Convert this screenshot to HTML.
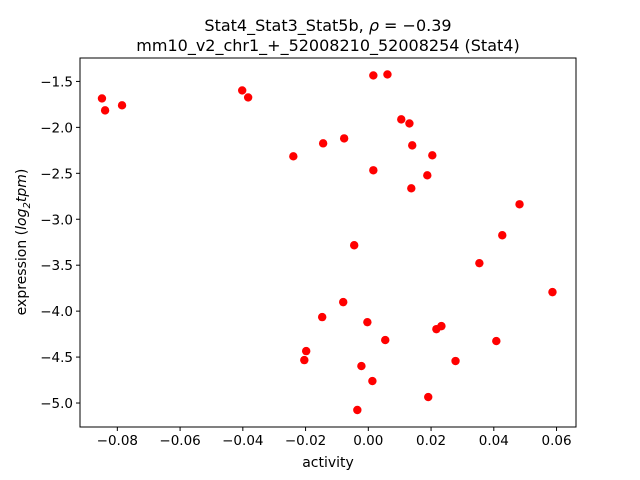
<!DOCTYPE html>
<html><head><meta charset="utf-8"><style>
body{margin:0;background:#fff;}
svg{display:block;font-family:"DejaVu Sans","Liberation Sans",sans-serif;}
</style></head><body>
<svg id="chart" width="640" height="480" viewBox="0 0 640 480">
<rect width="640" height="480" fill="#fff"/>
<text x="328" y="31" font-size="16" text-anchor="middle">Stat4_Stat3_Stat5b, <tspan font-style="italic">ρ</tspan> = −0.39</text>
<text x="328" y="51" font-size="16" text-anchor="middle">mm10_v2_chr1_+_52008210_52008254 (Stat4)</text>
<g id="ticks"></g>
<g id="points"></g>
<rect x="80" y="58" width="496" height="369" fill="none" stroke="#000" stroke-width="1"/>
<text x="328" y="467" font-size="14" text-anchor="middle">activity</text>
<text transform="translate(26,242) rotate(-90)" font-size="14" text-anchor="middle">expression (<tspan font-style="italic">log</tspan><tspan font-size="10" dy="4" font-style="italic">2</tspan><tspan dy="-4" font-style="italic">tpm</tspan>)</text>
</svg>
<script>
const xs=[-0.0849,-0.0839,-0.0785,-0.0402,-0.0383,0.0016,0.0061,-0.0239,-0.0144,-0.0077,0.0016,0.0105,0.0131,0.014,0.0204,0.0188,0.0137,0.0482,0.0427,-0.0045,0.0354,0.0587,-0.008,-0.0147,-0.0003,0.0217,0.0233,0.0054,0.0408,-0.0198,-0.0204,0.0278,-0.0022,0.0013,0.0191,-0.0035];
const ys=[-1.685,-1.815,-1.76,-1.598,-1.674,-1.435,-1.424,-2.315,-2.174,-2.12,-2.467,-1.913,-1.957,-2.196,-2.304,-2.522,-2.663,-2.837,-3.174,-3.283,-3.478,-3.793,-3.902,-4.065,-4.12,-4.196,-4.163,-4.315,-4.326,-4.435,-4.533,-4.543,-4.598,-4.761,-4.935,-5.076];
const xTicks=[-0.08,-0.06,-0.04,-0.02,0.00,0.02,0.04,0.06];
const yTicks=[-1.5,-2.0,-2.5,-3.0,-3.5,-4.0,-4.5,-5.0];
const X0=-0.0919,X1=0.0662,Y0=-5.261,Y1=-1.245;
const L=80,R=576,T=58,B=427;
function sx(v){return L+(v-X0)/(X1-X0)*(R-L);}
function sy(v){return B-(v-Y0)/(Y1-Y0)*(B-T);}
const NS="http://www.w3.org/2000/svg";
const tg=document.getElementById('ticks'),pg=document.getElementById('points');
function mk(t,a,p){const e=document.createElementNS(NS,t);for(const k in a)e.setAttribute(k,a[k]);p.appendChild(e);return e;}
function fmt(v,d){return (v<0?'−':'')+Math.abs(v).toFixed(d);}
xTicks.forEach(v=>{const x=sx(v);
 const l=mk('line',{x1:x,x2:x,y1:B,y2:B+4,stroke:'#000'},tg);
 
 
 const t=mk('text',{x:x,y:B+18,'font-size':'13.5','text-anchor':'middle'},tg);t.textContent=fmt(v,2);
 
 
});
yTicks.forEach(v=>{const y=sy(v);
 const l=mk('line',{x1:L-4,x2:L,y1:y,y2:y,stroke:'#000'},tg);
 
 
 const t=mk('text',{x:L-7,y:y+5,'font-size':'13.5','text-anchor':'end'},tg);t.textContent=fmt(v,1);
 
 
});
xs.forEach((v,i)=>{const c=mk('circle',{cx:sx(v),cy:sy(ys[i]),r:4.2,fill:'#ff0000'},pg);
 
 
});
</script>
</body></html>
